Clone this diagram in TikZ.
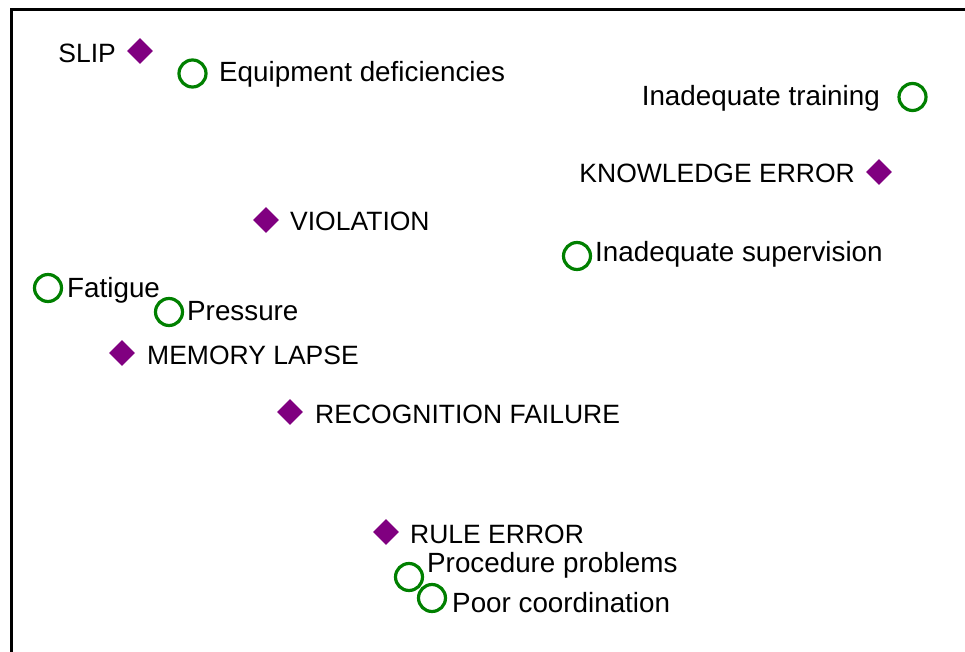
\documentclass[tikz,border=0pt]{standalone}
\usepackage{fontspec}
\setmainfont{Liberation Sans}
\usetikzlibrary{shapes.geometric}
\definecolor{mkpurple}{HTML}{800080}
\definecolor{mkgreen}{HTML}{008000}
\begin{document}
\begin{tikzpicture}[x=1pt,y=-1pt,
  errmark/.style={diamond,fill=mkpurple,draw=none,inner sep=0pt,minimum width=26pt,minimum height=26pt},
  facmark/.style={circle,draw=mkgreen,line width=3.2pt,fill=none,inner sep=0pt,minimum size=27pt},
  lbl/.style={inner sep=0pt,font=\fontsize{26.5}{30}\selectfont,text=black},
  lbls/.style={inner sep=0pt,font=\fontsize{27.8}{32}\selectfont,text=black},
  lblw/.style={lbl,anchor=base west},
  lble/.style={lbl,anchor=base east},
  lblsw/.style={lbls,anchor=base west},
  lblse/.style={lbls,anchor=base east},
  frame/.style={line width=3pt,black}]
\useasboundingbox (0,0) rectangle (965,652);
\fill[white] (0,0) rectangle (965,652);
\coordinate (tl) at (11,10);
\coordinate (tr) at (965,10);
\coordinate (bl) at (11,652);
\draw[frame] (tr) -- (tl) -- (bl);

% error types (diamonds)
\node[errmark] (slipm) at (140,51) {};
\node[lble] (slipt) at (116,63) {SLIP};
\node[errmark] (knowm) at (879,172) {};
\node[lble] (knowt) at (855,183) {KNOWLEDGE ERROR};
\node[errmark] (violm) at (266,220) {};
\node[lblw] (violt) at (290,230) {VIOLATION};
\node[errmark] (memm) at (122,353) {};
\node[lblw] (memt) at (147,364) {MEMORY LAPSE};
\node[errmark] (recm) at (290,412) {};
\node[lblw] (rect) at (315,423) {RECOGNITION FAILURE};
\node[errmark] (rulem) at (386,532) {};
\node[lblw] (rulet) at (410,543) {RULE ERROR};

% factors (circles)
\node[facmark] (equm) at (192.5,73.5) {};
\node[lblsw] (equt) at (219,82) {Equipment deficiencies};
\node[facmark] (trnm) at (912.5,97) {};
\node[lblse] (trnt) at (880,106) {Inadequate training};
\node[facmark] (supm) at (577,256) {};
\node[lblsw] (supt) at (595,261) {Inadequate supervision};
\node[facmark] (fatm) at (48,288) {};
\node[lblsw] (fatt) at (67,297) {Fatigue};
\node[facmark] (prem) at (169,312) {};
\node[lblsw] (pret) at (187,320) {Pressure};
\node[facmark] (prom) at (409,577) {};
\node[lblsw] (prot) at (427,572) {Procedure problems};
\node[facmark] (coom) at (432,598) {};
\node[lblsw] (coot) at (452,612) {Poor coordination};
\end{tikzpicture}
\end{document}
